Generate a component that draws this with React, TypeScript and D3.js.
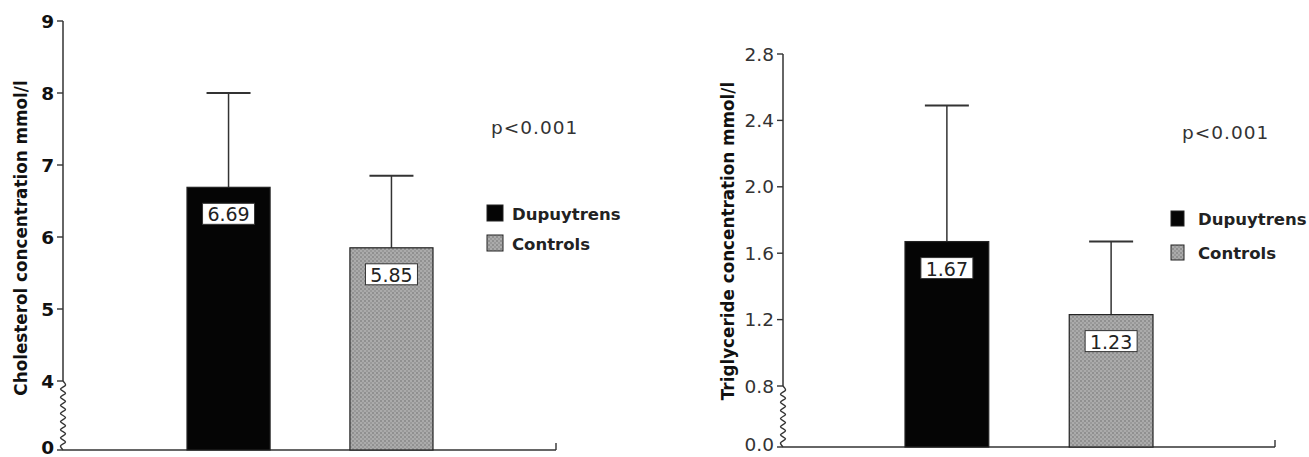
import React, { useEffect, useRef } from "react";
import * as d3 from "d3";

// groups and values
const groups = ["Dupuytrens", "Controls"];
const cholMeans = [6.69, 5.85];
const cholSD = [1.31, 1.0];
const trigMeans = [1.67, 1.23];
const trigSD = [0.82, 0.44];
const cholTicks = [0, 4, 5, 6, 7, 8, 9];
const trigTicks = [0.0, 0.8, 1.2, 1.6, 2.0, 2.4, 2.8];
const pLabel = "p<0.001";

const FONT = "'DejaVu Sans', Verdana, sans-serif";

function App() {
  const ref = useRef<SVGSVGElement>(null);

  useEffect(() => {
    const svg = d3.select(ref.current);
    svg.selectAll("*").remove();

    const defs = svg.append("defs");
    const pat = defs.append("pattern")
      .attr("id", "stipple")
      .attr("width", 4)
      .attr("height", 4)
      .attr("patternUnits", "userSpaceOnUse");
    pat.append("rect").attr("width", 4).attr("height", 4).attr("fill", "#ababab");
    pat.append("circle").attr("cx", 1).attr("cy", 1).attr("r", 0.8).attr("fill", "#6e6e6e");
    pat.append("circle").attr("cx", 3).attr("cy", 3).attr("r", 0.7).attr("fill", "#7a7a7a");

    const panels = [
      {
        means: cholMeans, sd: cholSD, ticks: cholTicks,
        y: d3.scaleLinear().domain([0, 4, 9]).range([450, 381, 21]),
        x: d3.scaleBand().domain(groups).range([187, 433]).paddingInner(0.49),
        axisX: 63, axisEnd: 556, breakVal: 4,
        fmt: d3.format("d"), tickWeight: "bold", tickColor: "#111", tickSize: 18.5,
        title: "Cholesterol concentration mmol/l", titleX: 27, titleY: 238,
        pX: 491, pY: 134,
        legX: 487, legY: [205, 235], sq: [16, 16], legTextX: 512,
      },
      {
        means: trigMeans, sd: trigSD, ticks: trigTicks,
        y: d3.scaleLinear().domain([0, 0.8, 2.8]).range([447, 386, 54]),
        x: d3.scaleBand().domain(groups).range([905, 1153]).paddingInner(0.49),
        axisX: 783, axisEnd: 1275, breakVal: 0.8,
        fmt: d3.format(".1f"), tickWeight: "normal", tickColor: "#333", tickSize: 18.5,
        title: "Triglyceride concentration mmol/l", titleX: 734, titleY: 241,
        pX: 1182, pY: 139,
        legX: 1171, legY: [211, 245], sq: [13, 15], legTextX: 1198,
      },
    ];

    panels.forEach(p => {
      const g = svg.append("g");
      const x0 = p.axisX;
      const y = p.y;

      // y axis: straight part above the break, squiggle below it
      g.append("line")
        .attr("x1", x0).attr("x2", x0)
        .attr("y1", y(p.breakVal)).attr("y2", y(p.ticks[p.ticks.length - 1]))
        .attr("stroke", "#333").attr("stroke-width", 1.5);
      const yTop = y(p.breakVal), yBot = y(0);
      const n = Math.round((yBot - yTop) / 4);
      const pts = d3.range(n + 1).map(i => [x0 + (i % 2 === 0 ? -2.5 : 2.5), yTop + (yBot - yTop) * i / n] as [number, number]);
      pts[0] = [x0, yTop];
      pts[n] = [x0, yBot];
      g.append("path")
        .attr("d", d3.line().curve(d3.curveCatmullRom)(pts))
        .attr("fill", "none").attr("stroke", "#333").attr("stroke-width", 1.4);

      // ticks and labels
      const tk = g.selectAll("g.tick").data(p.ticks).enter().append("g")
        .attr("transform", d => `translate(${x0},${y(d)})`);
      tk.append("line").attr("x1", -6).attr("x2", 0).attr("stroke", "#333").attr("stroke-width", 1.4);
      tk.append("text")
        .attr("x", -9).attr("dy", (d, i) => (i === 0 ? "0.22em" : "0.36em"))
        .attr("text-anchor", "end")
        .style("font-family", FONT).style("font-size", p.tickSize + "px")
        .style("font-weight", p.tickWeight).style("fill", p.tickColor)
        .text(d => p.fmt(d));

      // x axis
      g.append("line")
        .attr("x1", x0).attr("x2", p.axisEnd)
        .attr("y1", y(0)).attr("y2", y(0))
        .attr("stroke", "#333").attr("stroke-width", 1.5);
      g.append("line")
        .attr("x1", p.axisEnd).attr("x2", p.axisEnd)
        .attr("y1", y(0)).attr("y2", y(0) - 7)
        .attr("stroke", "#333").attr("stroke-width", 1.4);

      // y title
      g.append("text")
        .attr("transform", `translate(${p.titleX},${p.titleY}) rotate(-90)`)
        .attr("text-anchor", "middle")
        .style("font-family", FONT).style("font-size", "16.8px").style("font-weight", "bold")
        .style("fill", "#111")
        .text(p.title);

      const bw = p.x.bandwidth();
      const fills = ["#050505", "url(#stipple)"];

      // error bars
      groups.forEach((grp, i) => {
        const cx = (p.x(grp) as number) + bw / 2;
        const top = y(p.means[i] + p.sd[i]);
        g.append("line").attr("x1", cx).attr("x2", cx).attr("y1", y(p.means[i])).attr("y2", top)
          .attr("stroke", "#333").attr("stroke-width", 1.5);
        g.append("line").attr("x1", cx - 22).attr("x2", cx + 22).attr("y1", top).attr("y2", top)
          .attr("stroke", "#333").attr("stroke-width", 2);
      });

      // bars
      g.selectAll("rect.bar").data(groups).enter().append("rect")
        .attr("x", d => p.x(d) as number)
        .attr("y", (d, i) => y(p.means[i]))
        .attr("width", bw)
        .attr("height", (d, i) => y(0) - y(p.means[i]))
        .attr("fill", (d, i) => fills[i])
        .attr("stroke", "#222").attr("stroke-width", 1.2);

      // value boxes
      groups.forEach((grp, i) => {
        const cx = (p.x(grp) as number) + bw / 2;
        const top = y(p.means[i]) + 16;
        g.append("rect").attr("x", cx - 26).attr("y", top).attr("width", 52).attr("height", 21)
          .attr("fill", "#fff").attr("stroke", "#333").attr("stroke-width", 1);
        g.append("text").attr("x", cx).attr("y", top + 18)
          .attr("text-anchor", "middle")
          .style("font-family", FONT).style("font-size", "19px").style("fill", "#222")
          .text(p.means[i].toFixed(2));
      });

      // p value
      g.append("text").attr("x", p.pX).attr("y", p.pY)
        .style("font-family", FONT).style("font-size", "18.5px").style("fill", "#333")
        .style("letter-spacing", "1px")
        .text(pLabel);

      // legend
      groups.forEach((grp, i) => {
        g.append("rect")
          .attr("x", p.legX).attr("y", p.legY[i])
          .attr("width", p.sq[0]).attr("height", p.sq[1])
          .attr("fill", fills[i]).attr("stroke", "#222").attr("stroke-width", 1);
        g.append("text")
          .attr("x", p.legTextX).attr("y", p.legY[i] + p.sq[1] - 1)
          .style("font-family", FONT).style("font-size", "16.5px").style("font-weight", "bold")
          .style("fill", "#222")
          .text(grp);
      });
    });
  }, []);

  return (
    <div style={{ position: "absolute", left: 0, top: 0 }}>
      <svg ref={ref} width={1309} height={457} style={{ display: "block", background: "#fff" }} />
    </div>
  );
}

export default App;
